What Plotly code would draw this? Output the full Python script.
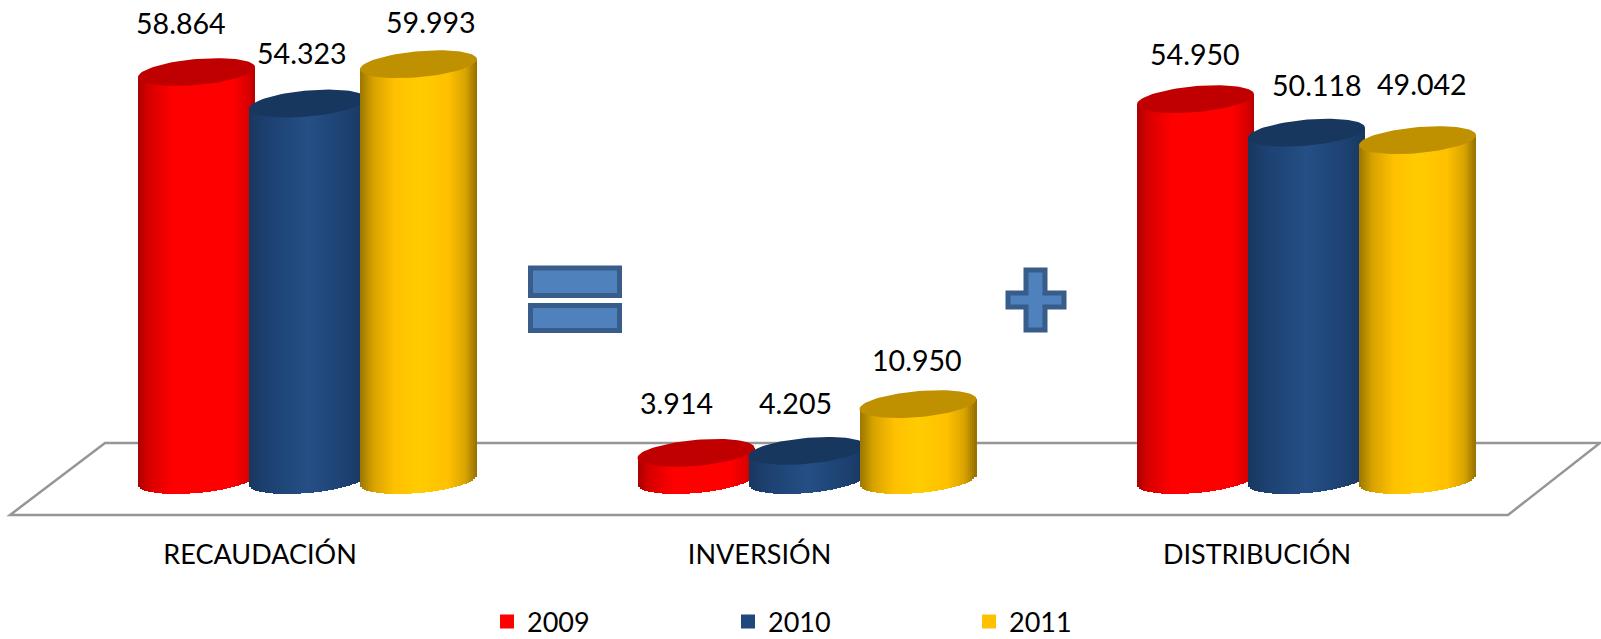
import numpy as np
import plotly.graph_objects as go

CATEGORIES = ["RECAUDACIÓN", "INVERSIÓN", "DISTRIBUCIÓN"]
YEARS = ["2009", "2010", "2011"]
VALUES_2009 = [58864, 3914, 54950]
VALUES_2010 = [54323, 4205, 50118]
VALUES_2011 = [59993, 10950, 49042]

# page geometry, in pixels
W, H = 1601, 639
PLOT_BOTTOM = 530
ZERO_PX = 480
PX_PER_UNIT = 0.00693
GROUP_STEP = 499.5
FIRST_GROUP = 307.5
FONT = "Lato"
FONT_SIZE = 27
LABEL_SIZE = 28.6

CYL_WIDTH = 117 / GROUP_STEP
CYL_STEP = 111 / GROUP_STEP
CAP_B = 13 / PX_PER_UNIT      # half height of the ellipse, in value units
CAP_TILT = 5 / PX_PER_UNIT    # rise of the right edge, in value units
N_STRIPS = 58

# gradient across the cylinder (left to right), and the top cap colour
BODY_STOPS = [
    [(0, "#A80000"), (0.08, "#D40000"), (0.3, "#FF0000"), (0.8, "#FF0000"), (0.95, "#D80000"), (1, "#B00000")],
    [(0, "#17375E"), (0.15, "#1C4070"), (0.5, "#254F85"), (0.85, "#1C4070"), (1, "#17375E")],
    [(0, "#9C7700"), (0.12, "#D9A400"), (0.3, "#FFC000"), (0.5, "#FFCC00"), (0.75, "#FFC000"), (0.9, "#D9A400"), (1, "#947000")],
]
CAP_COLORS = ["#C00000", "#17375E", "#BF9000"]
LEGEND_COLORS = ["#FF0000", "#1F497D", "#FFC000"]

# label offsets from the top of each cylinder, in pixels
LABEL_DX = [[-16, -20, -1], [-6, -12, 10], [12, -1, 4]]
LABEL_DY = [[49, 50, 45], [51, 48, 48], [42, 44, 56]]
TICK_SHIFT = [-0.095, -0.095, -0.099]


def hex_rgb(c):
    return np.array([int(c[i:i + 2], 16) for i in (1, 3, 5)], dtype=float)


def gradient(stops, t):
    for (t0, c0), (t1, c1) in zip(stops, stops[1:]):
        if t <= t1:
            mix = hex_rgb(c0) + (hex_rgb(c1) - hex_rgb(c0)) * (t - t0) / (t1 - t0)
            return "rgb({:.0f},{:.0f},{:.0f})".format(*mix)
    return stops[-1][1]


def px_x(x):
    return x / W


def px_y(y):
    return 1 - y / PLOT_BOTTOM


def path(points):
    d = "M" + "L".join(f"{px_x(x)},{px_y(y)}" for x, y in points) + "Z"
    return d


def symbol(points):
    return dict(type="path", xref="paper", yref="paper", path=path(points), layer="above",
                fillcolor="#4F81BD", line=dict(color="#385D8A", width=5))


fig = go.Figure()

series = [VALUES_2009, VALUES_2010, VALUES_2011]
u = (np.arange(N_STRIPS) + 0.5) / N_STRIPS * 2 - 1
half_depth = CAP_B * np.sqrt(1 - u ** 2)
tilt = CAP_TILT * u
strip_colors = [[gradient(stops, (s + 1) / 2) for s in u] for stops in BODY_STOPS]

for j, values in enumerate(series):
    offset = (j - 1) * CYL_STEP
    xs, bases, heights, colors = [], [], [], []
    cap_x, cap_y = [], []
    for i, v in enumerate(values):
        xs.extend(i + offset + u * CYL_WIDTH / 2)
        bases.extend(tilt - half_depth)
        heights.extend(v + half_depth)
        colors.extend(strip_colors[j])
        t = np.linspace(0, 2 * np.pi, 90)
        cap_x.extend(i + offset + np.cos(t) * CYL_WIDTH / 2)
        cap_y.extend(v + CAP_TILT * np.cos(t) + CAP_B * np.sin(t))
        cap_x.append(None)
        cap_y.append(None)
    fig.add_trace(go.Bar(
        x=xs, y=heights, base=bases, width=CYL_WIDTH / N_STRIPS,
        marker=dict(color=colors, line=dict(width=0)),
        showlegend=False, hoverinfo="skip", zorder=j,
    ))
    fig.add_trace(go.Scatter(
        x=cap_x, y=cap_y, mode="lines", fill="toself", fillcolor=CAP_COLORS[j],
        line=dict(width=0), showlegend=False, hoverinfo="skip", zorder=j,
    ))
    # legend swatch only
    fig.add_trace(go.Scatter(
        x=[None], y=[None], mode="markers", name=YEARS[j],
        marker=dict(symbol="square", size=14, color=LEGEND_COLORS[j]),
    ))

    for i, v in enumerate(values):
        fig.add_annotation(
            x=i + offset, y=v, text=f"{v:,}".replace(",", "."), showarrow=False,
            xshift=LABEL_DX[j][i], yshift=LABEL_DY[j][i], yanchor="middle",
            font=dict(family=FONT, size=LABEL_SIZE, color="#000000"),
        )

shapes = [
    dict(type="path", xref="paper", yref="paper", layer="below", line=dict(color="#969696", width=2.5),
         path=path([(10, 515), (1508, 515), (1600, 443), (105, 443)])),
    symbol([(530.5, 268), (619.5, 268), (619.5, 295.5), (530.5, 295.5)]),
    symbol([(530.5, 305.5), (619.5, 305.5), (619.5, 330.5), (530.5, 330.5)]),
    symbol([(1026, 270), (1045, 270), (1045, 293), (1064, 293), (1064, 307), (1045, 307), (1045, 330),
            (1026, 330), (1026, 307), (1008, 307), (1008, 293), (1026, 293)]),
]

fig.update_layout(
    width=W, height=H, barmode="overlay", bargap=0,
    paper_bgcolor="white", plot_bgcolor="rgba(0,0,0,0)",
    margin=dict(l=0, r=0, t=0, b=H - PLOT_BOTTOM, autoexpand=False),
    font=dict(family=FONT, size=FONT_SIZE, color="#000000"),
    shapes=shapes,
    xaxis=dict(
        range=[-FIRST_GROUP / GROUP_STEP, (W - FIRST_GROUP) / GROUP_STEP],
        tickmode="array", tickvals=[i + s for i, s in enumerate(TICK_SHIFT)], ticktext=CATEGORIES,
        showgrid=False, zeroline=False, showline=False, ticks="", tickangle=0, ticklabelstandoff=6,
        tickfont=dict(family=FONT, size=FONT_SIZE, color="#000000"),
    ),
    yaxis=dict(
        range=[-(PLOT_BOTTOM - ZERO_PX) / PX_PER_UNIT, ZERO_PX / PX_PER_UNIT],
        visible=False,
    ),
    legend=dict(
        orientation="h", x=487 / W, xanchor="left", y=(PLOT_BOTTOM - 622) / PLOT_BOTTOM, yanchor="middle",
        entrywidth=196, entrywidthmode="pixels", traceorder="normal",
        font=dict(family=FONT, size=FONT_SIZE, color="#000000"),
    ),
)

fig.write_html("out.html", config={"displayModeBar": False}, post_script="document.body.style.margin = '0';")
